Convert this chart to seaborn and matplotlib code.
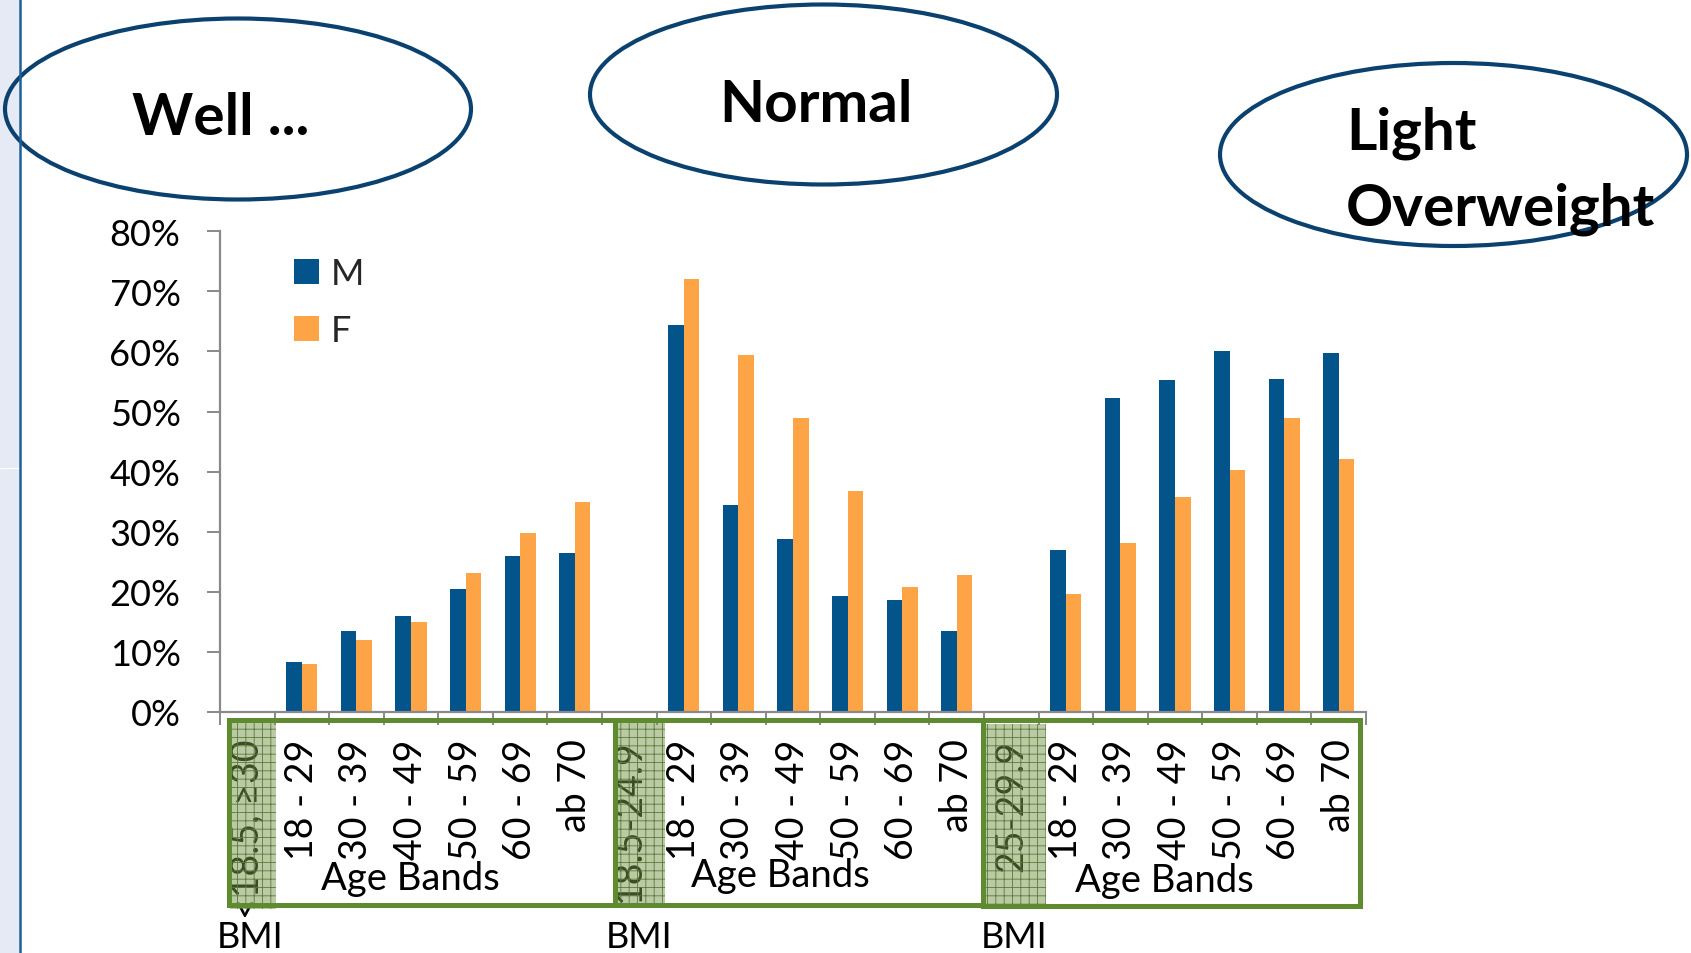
import numpy as np
import pandas as pd
import matplotlib
matplotlib.use("Agg")
import matplotlib.pyplot as plt
import seaborn as sns
from matplotlib.patches import Ellipse, Rectangle
from matplotlib.ticker import FixedLocator, FixedFormatter, NullFormatter, FuncFormatter

# ---------------- data ----------------
group_titles = ["Well ...", "Normal", "Light\nOverweight"]
bmi_labels = ["<18.5, \u226530", "18.5-24.9", "25-29.9"]
age_bands = ["18 - 29", "30 - 39", "40 - 49", "50 - 59", "60 - 69", "ab 70"]
sexes = ["M", "F"]

male_well = [8.3, 13.4, 15.9, 20.4, 25.9, 26.5]
female_well = [8.0, 12.0, 15.0, 23.1, 29.8, 34.9]
male_normal = [64.4, 34.4, 28.8, 19.3, 18.6, 13.5]
female_normal = [72.1, 59.4, 49.0, 36.7, 20.8, 22.8]
male_light = [27.0, 52.2, 55.2, 60.0, 55.4, 59.8]
female_light = [19.6, 28.2, 35.7, 40.2, 49.0, 42.1]

y_ticks = [0, 10, 20, 30, 40, 50, 60, 70, 80]

male_series = [male_well, male_normal, male_light]
female_series = [female_well, female_normal, female_light]

# ---------------- table ----------------
rows = []
order = []
tick_labels = []
for gi, bmi in enumerate(bmi_labels):
    order.append(f"g{gi}|{bmi}")
    tick_labels.append(bmi)
    for ai, age in enumerate(age_bands):
        key = f"g{gi}|{age}"
        order.append(key)
        tick_labels.append(age)
        rows.append({"slot": key, "sex": "M", "value": male_series[gi][ai]})
        rows.append({"slot": key, "sex": "F", "value": female_series[gi][ai]})
df = pd.DataFrame(rows)

# ---------------- style ----------------
sns.set_style("white")
plt.rcParams["font.family"] = ["Lato", "DejaVu Sans"]
plt.rcParams["hatch.linewidth"] = 0.6

W, H = 1691, 954
fig = plt.figure(figsize=(W / 100, H / 100), dpi=100)
ax = fig.add_axes([220 / W, 1 - 713 / H, (1366 - 220) / W, (713 - 232.3) / H])

palette = {"M": "#02548b", "F": "#fda447"}
sns.barplot(data=df, x="slot", y="value", hue="sex", order=order, hue_order=sexes,
            palette=palette, width=0.57, saturation=1, errorbar=None,
            linewidth=0, ax=ax)

ax.set_xlim(-0.5, len(order) - 0.5)
ax.set_ylim(0, 80)
ax.set_xlabel("")
ax.set_ylabel("")

axis_grey = "#898989"
for s in ["top", "right"]:
    ax.spines[s].set_visible(False)
for s in ["left", "bottom"]:
    ax.spines[s].set_color(axis_grey)
    ax.spines[s].set_linewidth(1.6)

ax.xaxis.set_major_locator(FixedLocator(np.arange(-0.5, len(order), 1.0)))
ax.xaxis.set_major_formatter(NullFormatter())
ax.xaxis.set_minor_locator(FixedLocator(np.arange(len(order))))
ax.xaxis.set_minor_formatter(FixedFormatter(tick_labels))
ax.tick_params(axis="x", which="major", length=9.4, width=1.4, color=axis_grey,
               direction="out", bottom=True)
ax.tick_params(axis="x", which="minor", length=0, pad=19, labelsize=27,
               labelrotation=90, bottom=True, labelcolor="black")

ax.yaxis.set_major_locator(FixedLocator(y_ticks))
ax.yaxis.set_major_formatter(FuncFormatter(lambda v, p: f"{v:.0f}%"))
ax.tick_params(axis="y", which="major", length=9.4, width=1.4, color=axis_grey,
               direction="out", left=True, pad=19, labelsize=26, labelcolor="black")

handles, labels = ax.get_legend_handles_labels()
ax.legend(handles, labels, loc="upper left", bbox_to_anchor=(294 / W, 1 - 258 / H),
          bbox_transform=fig.transFigure, frameon=False, fontsize=26,
          handlelength=0.7, handleheight=0.7, handletextpad=0.32,
          labelspacing=0.66, borderpad=0, borderaxespad=0)

# ---------------- overlay (slide decorations) ----------------
ov = fig.add_axes([0, 0, 1, 1], zorder=5)
ov.set_xlim(0, W)
ov.set_ylim(H, 0)
ov.axis("off")
ov.patch.set_alpha(0)

# left slide strip
ov.add_patch(Rectangle((0, 0), 18.5, H, color="#e5eaf4", lw=0))
ov.plot([0, 19], [469, 469], color="white", lw=0.8)
ov.plot([19.6, 19.6], [0, H], color="#1c5f98", lw=1.8)

# ellipses with titles
navy = "#0b416f"
ellipses = [((238, 110), 466, 181), ((823.5, 95.5), 467, 180), ((1453.5, 155.5), 467, 183)]
for (c, w, h) in ellipses:
    ov.add_patch(Ellipse(c, w, h, fill=False, ec=navy, lw=3.0))
ov.text(221, 135, group_titles[0], ha="center", va="baseline", fontsize=42,
        fontweight="bold", color="black")
ov.text(816, 122, group_titles[1], ha="center", va="baseline", fontsize=42,
        fontweight="bold", color="black")
t1, t2 = group_titles[2].split("\n")
ov.text(1346, 150, t1, ha="left", va="baseline", fontsize=42, fontweight="bold", color="black")
ov.text(1346, 226, t2, ha="left", va="baseline", fontsize=42, fontweight="bold", color="black")

# shaded BMI bands (semi-transparent, over the labels)
bands = [(230, 722, 46, 188), (615.5, 723, 49.5, 182), (986, 725, 59.5, 180)]
for (x0, y0, bw, bh) in bands:
    ov.add_patch(Rectangle((x0, y0), bw, bh, fc=(0.467, 0.592, 0.29, 0.5),
                           ec="#5a7a3a", lw=0, hatch="++"))

# green boxes
green = "#5f8b30"
boxes = [(229, 720.5, 615, 906), (615, 720.5, 982.5, 906), (982.5, 720.5, 1360, 906.5)]
for (x0, y0, x1, y1) in boxes:
    ov.add_patch(Rectangle((x0, y0), x1 - x0, y1 - y0, fill=False, ec=green, lw=3.6))

# "Age Bands" and "BMI" captions
for xc, yb in [(410.5, 890), (780, 887), (1164, 892)]:
    ov.text(xc, yb, "Age Bands", ha="center", va="baseline", fontsize=27.5, color="black")
for xc in [250, 639, 1014]:
    ov.text(xc, 948, "BMI", ha="center", va="baseline", fontsize=26, color="black")

fig.savefig("out.png", dpi=100)
